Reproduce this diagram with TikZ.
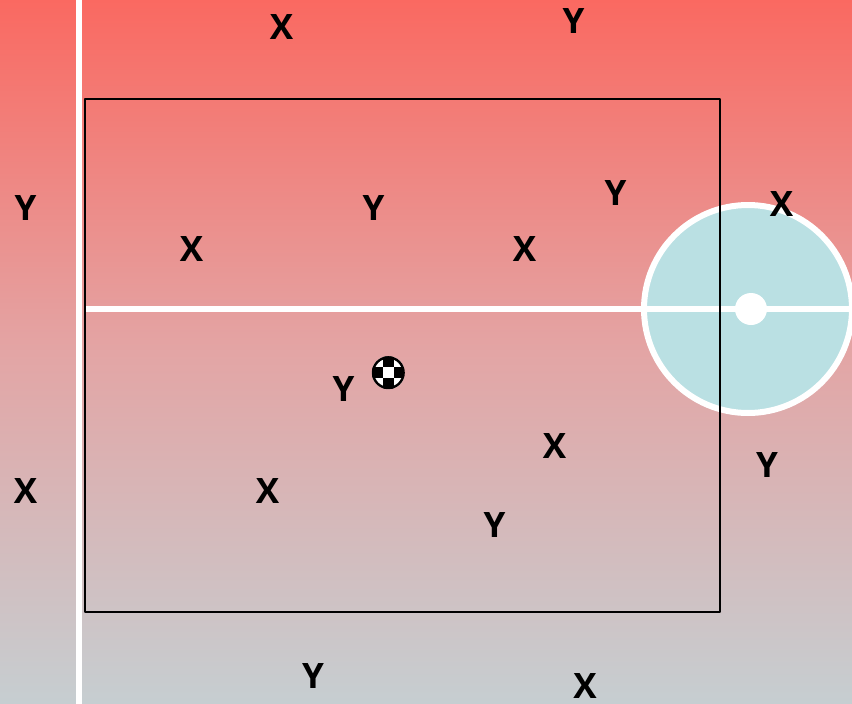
\documentclass[tikz,border=0pt]{standalone}
\usepackage{fontspec}
\setmainfont{Open Sans}
\definecolor{topc}{RGB}{250,105,97}
\definecolor{midc}{RGB}{227,165,165}
\definecolor{botc}{RGB}{198,206,209}
\definecolor{poolc}{RGB}{186,224,227}
\tikzset{
  lab/.style={font=\fontsize{35}{35}\selectfont\bfseries, text=black, inner sep=0pt, anchor=center},
  wline/.style={draw=white, line width=6pt},
  frame/.style={draw=black, line width=2pt, line join=round, outer sep=0pt},
}
\begin{document}
\begin{tikzpicture}[x=1pt,y=-1pt]
\useasboundingbox (0,0) rectangle (852,704);
\shade[top color=topc, bottom color=botc, middle color=midc] (0,0) rectangle (852,704);
\draw[wline] (79,0) -- (79,704);
\coordinate (hl) at (84,309);
\coordinate (hr) at (852,309);
\node[circle, minimum size=208pt, inner sep=0pt, outer sep=0pt, fill=poolc, draw=white, line width=6pt] (pool) at (748,309) {};
\draw[wline] (hl) -- (hr);
\node[circle, minimum size=32pt, inner sep=0pt, outer sep=0pt, fill=white] (spot) at (751,309) {};
\node[frame, minimum width=635pt, minimum height=513pt, inner sep=0pt, anchor=north west] (box) at (85,99) {};
\begin{scope}
\clip (388.3,372.7) circle (16.5);
\fill[white] (371,355) rectangle (405,390);
\foreach \i/\j in {-1/0,1/0,0/-1,0/1,-2/-1,-2/1,2/-1,2/1,-1/-2,1/-2,-1/2,1/2}
  \fill[black] ({388.3+\i*11-5.5},{372.7+\j*11-5.5}) rectangle ++(11,11);
\end{scope}
\node[circle, minimum size=30.6pt, inner sep=0pt, outer sep=0pt, draw=black, line width=2.4pt] (ball) at (388.3,372.7) {};
\node[lab] (a1) at (281.5,27) {X};
\node[lab] (a2) at (573.5,21) {Y};
\node[lab] (a3) at (25.5,208) {Y};
\node[lab] (a4) at (191.5,249) {X};
\node[lab] (a5) at (373.5,208) {Y};
\node[lab] (a6) at (524.5,249) {X};
\node[lab] (a7) at (615.5,193) {Y};
\node[lab] (a8) at (781.5,204) {X};
\node[lab] (a9) at (343.5,389) {Y};
\node[lab] (a10) at (554.5,446) {X};
\node[lab] (a11) at (767,465) {Y};
\node[lab] (a12) at (25.5,491.5) {X};
\node[lab] (a13) at (267.5,491.5) {X};
\node[lab] (a14) at (494.5,525) {Y};
\node[lab] (a15) at (313,676) {Y};
\node[lab] (a16) at (585,686.5) {X};
\end{tikzpicture}
\end{document}
